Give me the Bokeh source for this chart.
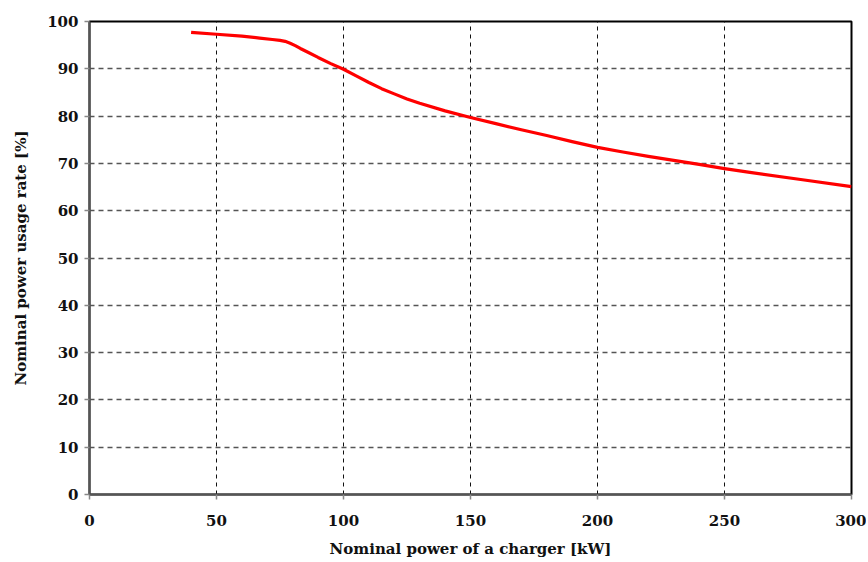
from bokeh.plotting import figure
from bokeh.models import Range1d, SingleIntervalTicker
from bokeh.embed import file_html
from bokeh.resources import INLINE

power_kw = [40, 50, 60, 67, 72, 75, 77, 79, 81, 83, 86, 90, 95, 100, 105, 110,
            115, 120, 125, 130, 140, 150, 160, 170, 180, 190, 200, 210, 220,
            240, 250, 260, 280, 300]
usage_rate = [97.7, 97.3, 96.9, 96.5, 96.2, 96.0, 95.8, 95.4, 94.9, 94.3, 93.5,
              92.4, 91.1, 89.9, 88.5, 87.1, 85.8, 84.7, 83.6, 82.7, 81.1, 79.7,
              78.4, 77.1, 75.9, 74.6, 73.4, 72.4, 71.5, 69.8, 68.9, 68.1, 66.6,
              65.1]

x_label = "Nominal power of a charger [kW]"
y_label = "Nominal power usage rate [%]"

FONT = "DejaVu Serif"

p = figure(width=866, height=560, output_backend="svg", toolbar_location=None,
           x_range=Range1d(0, 300), y_range=Range1d(0, 100),
           min_border_left=89, min_border_top=21, min_border_right=15,
           min_border_bottom=65)

p.line(power_kw, usage_rate, line_color="#ff0000", line_width=3.2,
       line_join="round")

p.xaxis.ticker = SingleIntervalTicker(interval=50)
p.yaxis.ticker = SingleIntervalTicker(interval=10)

for ax in (p.xaxis[0], p.yaxis[0]):
    ax.axis_line_color = "#555555"
    ax.axis_line_width = 2
    ax.major_tick_line_color = "#888888"
    ax.major_tick_line_width = 1.5
    ax.major_tick_out = 5
    ax.major_tick_in = 0
    ax.minor_tick_out = 0
    ax.minor_tick_in = 0
    ax.major_label_text_font = FONT
    ax.major_label_text_font_style = "bold"
    ax.major_label_text_font_size = "15px"
    ax.major_label_text_color = "#111111"
    ax.axis_label_text_font = FONT
    ax.axis_label_text_font_style = "bold"
    ax.axis_label_text_font_size = "15px"
    ax.axis_label_text_color = "#111111"

p.xaxis.axis_label = x_label
p.yaxis.axis_label = y_label
p.xaxis.major_label_standoff = 15
p.xaxis.axis_label_standoff = 11
p.yaxis.major_label_standoff = 6
p.yaxis.axis_label_standoff = 14

p.xgrid.grid_line_color = "#111111"
p.xgrid.grid_line_dash = "4 4"
p.xgrid.grid_line_width = 1
p.ygrid.grid_line_color = "#555555"
p.ygrid.grid_line_dash = "5 4"
p.ygrid.grid_line_width = 1.3

p.outline_line_color = "#000000"
p.outline_line_width = 2
p.outline_line_alpha = 1

p.background_fill_color = "white"
p.border_fill_color = "white"

open("out.html", "w").write(file_html(p, INLINE))
